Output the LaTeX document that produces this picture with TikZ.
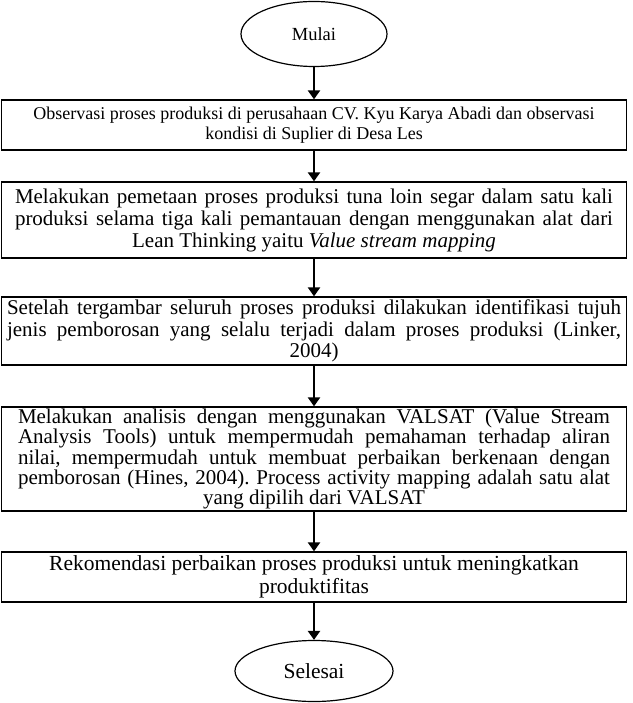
\documentclass[tikz,border=0pt]{standalone}
\usepackage{fontspec}
\setmainfont{Liberation Serif}
\usetikzlibrary{arrows.meta, shapes.geometric, positioning}
\newcommand{\penuh}[1]{\makebox[\hsize][s]{\spaceskip=\fontdimen2\font plus 1fil\relax#1}}

\begin{document}
\begin{tikzpicture}[x=1pt, y=-1pt,
    langkah/.style={shape=rectangle, draw=black, line width=1.3pt, minimum width=625pt, inner sep=0pt, align=center,
        execute at begin node={\frenchspacing\spaceskip=\fontdimen2\font\relax}},
    terminal/.style={shape=ellipse, draw=black, line width=1.2pt, inner sep=0pt},
    alur/.style={line width=2.6pt, -{Triangle[length=9pt, width=12pt]}}]
    \useasboundingbox (0,0) rectangle (632,703);
    \node[terminal, minimum width=146pt, minimum height=65pt, font=\fontsize{18.5}{20}\selectfont] (mulai) at (314,34) {Mulai};
    \node[langkah, minimum height=50pt, text width=600pt, font=\fontsize{18}{20}\selectfont] (observasi) at (314,125)
        {Observasi proses produksi di perusahaan CV. Kyu Karya Abadi dan observasi\\kondisi di Suplier di Desa Les};
    \node[langkah, minimum height=76pt, text width=598pt, font=\fontsize{21}{22}\selectfont] (pemetaan) at (314,220)
        {\penuh{Melakukan pemetaan proses produksi tuna loin segar dalam satu kali}\\
         \penuh{produksi selama tiga kali pemantauan dengan menggunakan alat dari}\\
         Lean Thinking yaitu \textit{Value stream mapping}};
    \node[langkah, minimum height=68pt, text width=614pt, font=\fontsize{21}{21.5}\selectfont] (identifikasi) at (314,331)
        {\penuh{Setelah tergambar seluruh proses produksi dilakukan identifikasi tujuh}\\
         \penuh{jenis pemborosan yang selalu terjadi dalam proses produksi (Linker,}\\
         2004)};
    \node[langkah, minimum height=104pt, text width=592pt, font=\fontsize{21}{20.2}\selectfont] (analisis) at (314,459)
        {\penuh{Melakukan analisis dengan menggunakan VALSAT (Value Stream}\\
         \penuh{Analysis Tools) untuk mempermudah pemahaman terhadap aliran}\\
         \penuh{nilai, mempermudah untuk membuat perbaikan berkenaan dengan}\\
         \penuh{pemborosan (Hines, 2004). Process activity mapping adalah satu alat}\\
         yang dipilih dari VALSAT};
    \node[langkah, minimum height=50pt, text width=600pt, font=\fontsize{21.5}{23}\selectfont] (rekomendasi) at (314,577)
        {Rekomendasi perbaikan proses produksi untuk meningkatkan\\produktifitas};
    \node[terminal, minimum width=158pt, minimum height=61pt, font=\fontsize{21.5}{23}\selectfont] (selesai) at (314,671) {Selesai};

    \path[alur] (mulai)        edge (observasi);
    \path[alur] (observasi)    edge (pemetaan);
    \path[alur] (pemetaan)     edge (identifikasi);
    \path[alur] (identifikasi) edge (analisis);
    \path[alur] (analisis)     edge (rekomendasi);
    \path[alur] (rekomendasi)  edge (selesai);
\end{tikzpicture}
\end{document}
